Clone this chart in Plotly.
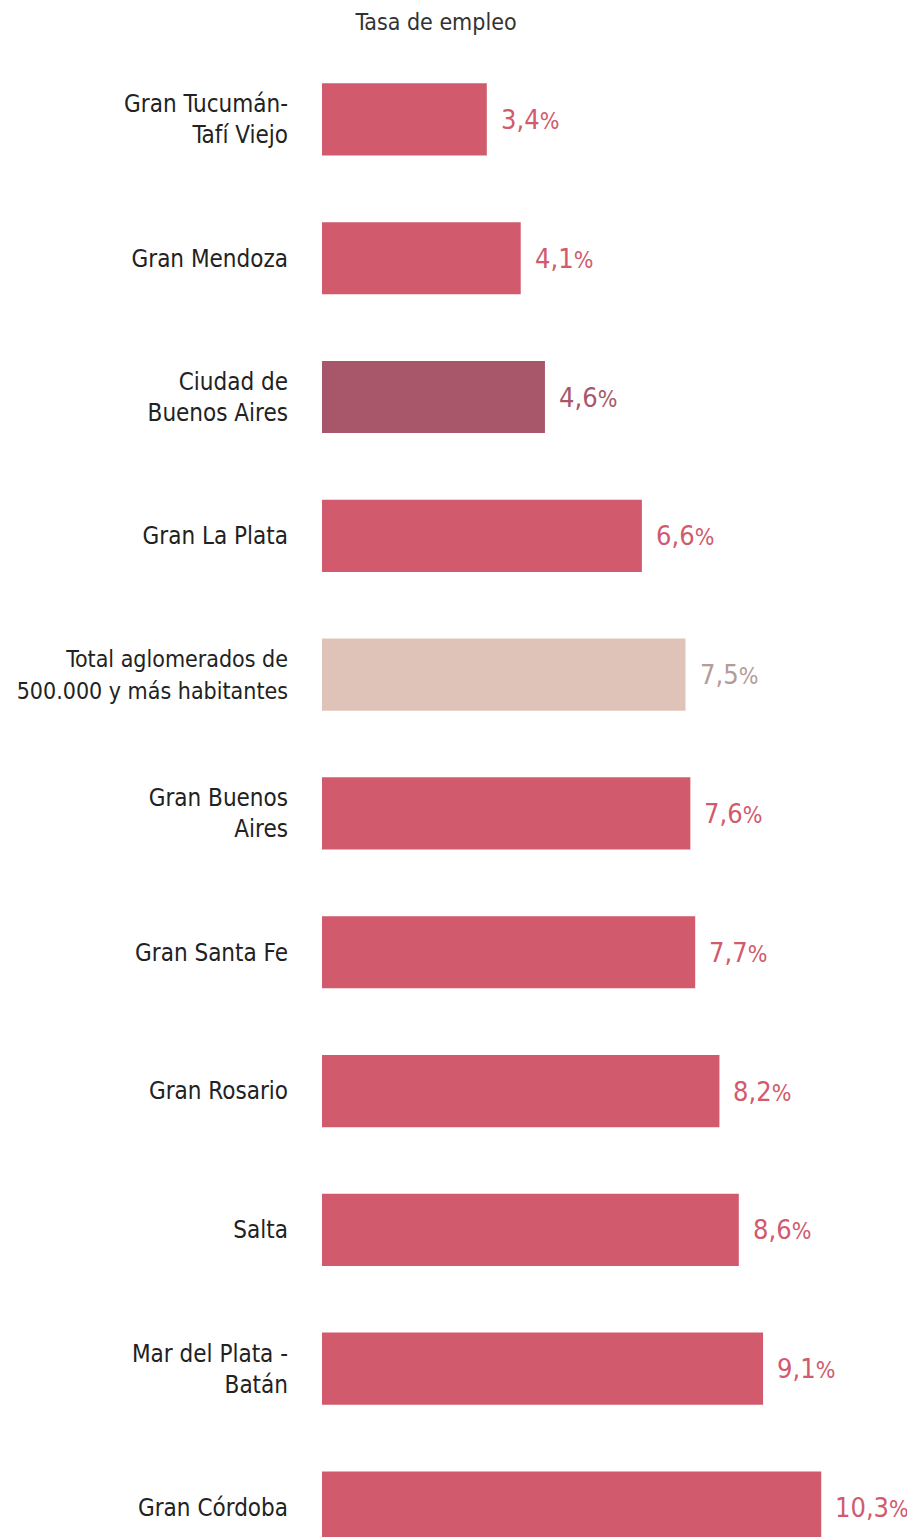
import plotly.graph_objects as go

categories = [
    "Gran Tucumán-<br>Tafí Viejo",
    "Gran Mendoza",
    "Ciudad de<br>Buenos Aires",
    "Gran La Plata",
    "Total aglomerados de<br>500.000 y más habitantes",
    "Gran Buenos<br>Aires",
    "Gran Santa Fe",
    "Gran Rosario",
    "Salta",
    "Mar del Plata -<br>Batán",
    "Gran Córdoba",
]
values = [3.4, 4.1, 4.6, 6.6, 7.5, 7.6, 7.7, 8.2, 8.6, 9.1, 10.3]
value_labels = ["3,4", "4,1", "4,6", "6,6", "7,5", "7,6", "7,7", "8,2", "8,6", "9,1", "10,3"]
kinds = ["agl", "agl", "caba", "agl", "total", "agl", "agl", "agl", "agl", "agl", "agl"]

bar_colors = {"agl": "#d15a6c", "caba": "#a8576a", "total": "#e0c3b8"}
text_colors = {"agl": "#d15a6c", "caba": "#a8576a", "total": "#b39c97"}

FONT = "DejaVu Sans Condensed, Liberation Sans Narrow, Noto Sans, sans-serif"

# long label set slightly smaller so it fits the left edge
tick_text = [
    ("<span style='font-size:23px'>" + "</span><br><span style='font-size:23px'>".join(c.split("<br>")) + "</span>")
    if k == "total" else c
    for c, k in zip(categories, kinds)
]

fig = go.Figure()
fig.add_trace(go.Bar(
    x=values,
    y=list(range(len(categories))),
    orientation="h",
    marker=dict(color=[bar_colors[k] for k in kinds], line=dict(width=0)),
    width=0.52,
    hoverinfo="skip",
))

for i, (v, t, k) in enumerate(zip(values, value_labels, kinds)):
    fig.add_annotation(
        x=v, y=i, text=t + "<span style='font-size:23px'>%</span>",
        showarrow=False, xanchor="left", yanchor="middle",
        xshift=12, font=dict(family=FONT, size=27, color=text_colors[k]),
    )

fig.update_layout(
    width=915, height=1537,
    margin=dict(l=314, r=0, t=42, b=0, autoexpand=False),
    paper_bgcolor="white", plot_bgcolor="white",
    showlegend=False,
    title=dict(
        text="Tasa de empleo", x=428 / 915, xanchor="center",
        y=1 - 14 / 1537, yanchor="middle", yref="container", xref="container",
        font=dict(family=FONT, size=23, color="#333333"),
    ),
    font=dict(family=FONT, color="#222222"),
    xaxis=dict(range=[0, 12.40], visible=False, fixedrange=True, automargin=False),
    yaxis=dict(
        range=[10.27, -0.5],
        tickmode="array",
        tickvals=list(range(len(categories))),
        ticktext=tick_text,
        showgrid=False, zeroline=False, showline=False,
        ticks="", ticklabelstandoff=33, automargin=False,
        tickfont=dict(family=FONT, size=24, color="#222222"),
        fixedrange=True,
    ),
)

fig.write_html("out.html")
